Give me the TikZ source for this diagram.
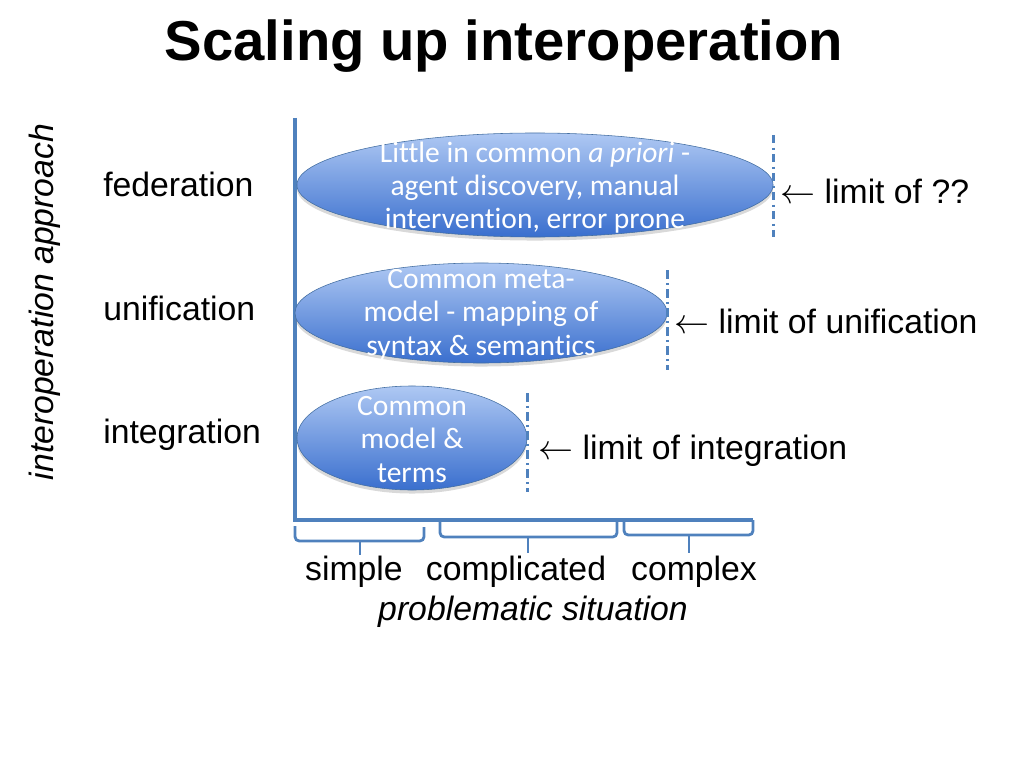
\documentclass[tikz,border=0pt]{standalone}
\usepackage{fontspec}
\setmainfont{Liberation Sans}
\newfontfamily\calfont[Ligatures=NoCommon]{Carlito}
\usetikzlibrary{shapes.geometric,shadows}

\definecolor{axisblue}{RGB}{79,129,189}
\definecolor{elltop}{RGB}{174,200,243}
\definecolor{ellbot}{RGB}{58,111,206}

\tikzset{
  axisline/.style={draw=axisblue, line width=2.2pt},
  brack/.style={draw=axisblue, line width=2pt, rounded corners=3pt},
  blob/.style={ellipse, draw=axisblue!85!black, line width=0.4pt, top color=elltop, bottom color=ellbot,
    drop shadow={opacity=0.3, shadow xshift=0pt, shadow yshift=-2.5pt}},
  blobtext/.style={font=\calfont\fontsize{21}{23.6}\selectfont, text=white, align=center},
  limitline/.style={draw=axisblue, line width=2pt, dash pattern=on 6pt off 3pt on 1.5pt off 3pt},
  lbl/.style={font=\fontsize{24}{28}\selectfont, inner sep=0pt},
}

\begin{document}
\begin{tikzpicture}[x=0.025cm, y=-0.025cm]
\useasboundingbox (0,0) rectangle (1024,768);

\node[font=\bfseries\fontsize{40}{44}\selectfont, inner sep=0pt, anchor=base] (title) at (504,61) {Scaling up interoperation};

% axes
\draw[axisline] (295,118) -- (295,520) -- (753,520);

% ellipses
\node[blob, minimum width=11.9cm, minimum height=2.6cm] (fed) at (535,185) {};
\node[blob, minimum width=9.3cm, minimum height=2.5cm] (uni) at (481,313) {};
\node[blob, minimum width=5.75cm, minimum height=2.6cm] (int) at (412,438) {};

\node[blobtext, yshift=-1.8pt] at (fed.center) {Little in common \emph{a priori} -\\agent discovery, manual\\intervention, error prone};
\node[blobtext, yshift=-1.2pt] at (uni.center) {Common meta-\\model - mapping of\\syntax \& semantics};
\node[blobtext, yshift=-1pt] at (int.center) {Common\\model \&\\terms};

% limits
\draw[limitline] ([yshift=1.25cm]fed.east) -- ([yshift=-1.3cm]fed.east);
\draw[limitline] ([yshift=1.07cm]uni.east) -- ([yshift=-1.42cm]uni.east);
\draw[limitline] ([yshift=1.12cm]int.east) -- ([yshift=-1.35cm]int.east);

\node[lbl, anchor=base west] (limfed) at (780,203) {$\leftarrow$ limit of ??};
\node[lbl, anchor=base west] (limuni) at (674,333) {$\leftarrow$ limit of unification};
\node[lbl, anchor=base west] (limint) at (538,459) {$\leftarrow$ limit of integration};

% approaches
\node[lbl, anchor=base west] (federation) at (103,196) {federation};
\node[lbl, anchor=base west] (unification) at (103,320) {unification};
\node[lbl, anchor=base west] (integration) at (103,443) {integration};
\node[lbl, rotate=90, font=\itshape\fontsize{24}{28}\selectfont] (approach) at (45,302) {interoperation approach};

% brackets
\draw[brack] (295,526) -- (295,541) -- (424,541) -- (424,527);
\draw[brack] (360,541) -- (360,555);
\draw[brack] (440,522) -- (440,537) -- (617,537) -- (617,522);
\draw[brack] (528,537) -- (528,553);
\draw[brack] (624,522) -- (624,535) -- (753,535) -- (753,520);
\draw[brack] (689,535) -- (689,553);

\node[lbl, anchor=base] (simple) at (354,580) {simple};
\node[lbl, anchor=base] (complicated) at (516,580) {complicated};
\node[lbl, anchor=base] (complex) at (694,580) {complex};
\node[lbl, anchor=base, font=\itshape\fontsize{24}{28}\selectfont] (situation) at (533,620) {problematic situation};
\end{tikzpicture}
\end{document}
